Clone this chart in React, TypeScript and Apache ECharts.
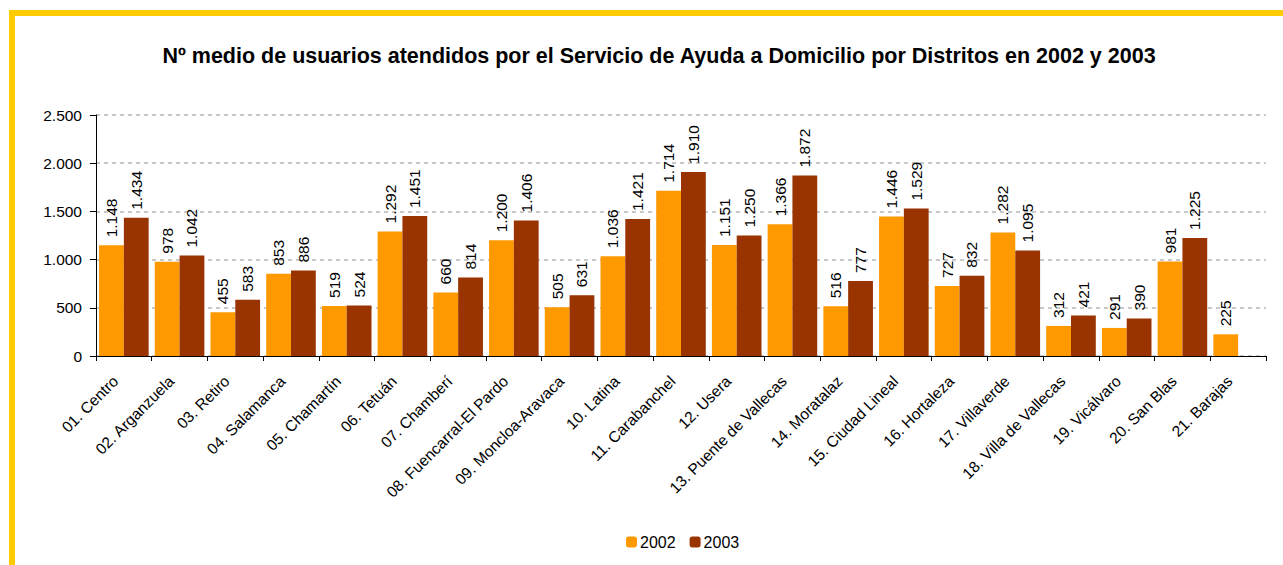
import React, { useEffect, useRef } from "react";
import * as echarts from "echarts";

const categories = [
  "01. Centro", "02. Arganzuela", "03. Retiro", "04. Salamanca", "05. Chamartín",
  "06. Tetuán", "07. Chamberí", "08. Fuencarral-El Pardo", "09. Moncloa-Aravaca",
  "10. Latina", "11. Carabanchel", "12. Usera", "13. Puente de Vallecas",
  "14. Moratalaz", "15. Ciudad Lineal", "16. Hortaleza", "17. Villaverde",
  "18. Villa de Vallecas", "19. Vicálvaro", "20. San Blas", "21. Barajas",
];
const values2002 = [1148, 978, 455, 853, 519, 1292, 660, 1200, 505, 1036, 1714, 1151, 1366, 516, 1446, 727, 1282, 312, 291, 981, 225];
const values2003: (number | null)[] = [1434, 1042, 583, 886, 524, 1451, 814, 1406, 631, 1421, 1910, 1250, 1872, 777, 1529, 832, 1095, 421, 390, 1225, null];
const seriesNames = ["2002", "2003"];
const title = "Nº medio de usuarios atendidos por el Servicio de Ayuda a Domicilio por Distritos en 2002 y 2003";

const fmt = (v: number) => String(Math.round(v)).replace(/\B(?=(\d{3})+(?!\d))/g, ".");

export default function App() {
  const ref = useRef<HTMLDivElement>(null);
  useEffect(() => {
    if (!ref.current) return;
    const chart = echarts.init(ref.current, undefined, { renderer: "svg" });
    const font = "'Liberation Sans', Arial, sans-serif";
    const labelCfg = {
      show: true,
      position: "top",
      rotate: 90,
      align: "left",
      verticalAlign: "middle",
      distance: 8,
      color: "#000",
      fontSize: 15.5,
      fontFamily: font,
      formatter: (p: any) => fmt(p.value),
    };
    chart.setOption({
      animation: false,
      textStyle: { fontFamily: font },
      title: {
        text: title,
        left: 654,
        textAlign: "center",
        top: 40,
        textStyle: { fontSize: 21.5, fontWeight: "bold", color: "#000", fontFamily: font },
      },
      legend: {
        top: 529,
        left: 621,
        itemWidth: 11,
        itemHeight: 11,
        itemGap: 14,
        textStyle: { fontSize: 16, color: "#000", fontFamily: font, padding: [0, 0, 0, -2] },
        data: seriesNames,
      },
      grid: { left: 96, right: 17, top: 115, bottom: 209 },
      xAxis: {
        type: "category",
        data: categories,
        axisLine: { lineStyle: { color: "#000", width: 1 } },
        axisTick: { show: true, lineStyle: { color: "#000" }, length: 5 },
        axisLabel: {
          rotate: 45,
          interval: 0,
          color: "#000",
          fontSize: 15.5,
          margin: 14,
          padding: [0, 12, 0, 0],
          fontFamily: font,
        },
      },
      yAxis: {
        type: "value",
        min: 0,
        max: 2500,
        interval: 500,
        axisLine: { show: true, lineStyle: { color: "#000", width: 1 } },
        axisTick: { show: true, lineStyle: { color: "#000" }, length: 6 },
        axisLabel: { color: "#000", fontSize: 15.5, margin: 14, fontFamily: font, formatter: (v: number) => fmt(v) },
        splitLine: { show: true, lineStyle: { color: "#b8b8b8", type: [4, 4], width: 1.5 } },
      },
      series: [
        {
          name: seriesNames[0],
          type: "bar",
          data: values2002,
          barGap: "0%",
          barCategoryGap: "11%",
          itemStyle: { color: "#FF9900" },
          label: labelCfg,
        },
        {
          name: seriesNames[1],
          type: "bar",
          data: values2003,
          itemStyle: { color: "#993300" },
          label: labelCfg,
        },
      ],
      graphic: [
        { type: "rect", shape: { x: 9, y: 10, width: 1274, height: 6 }, style: { fill: "#FFCC00" } },
        { type: "rect", shape: { x: 9, y: 10, width: 6, height: 555 }, style: { fill: "#FFCC00" } },
      ],
    });
    return () => chart.dispose();
  }, []);
  return (
    <div
      ref={ref}
      style={{ position: "fixed", left: 0, top: 0, width: 1283, height: 565, background: "#fff" }}
    />
  );
}
